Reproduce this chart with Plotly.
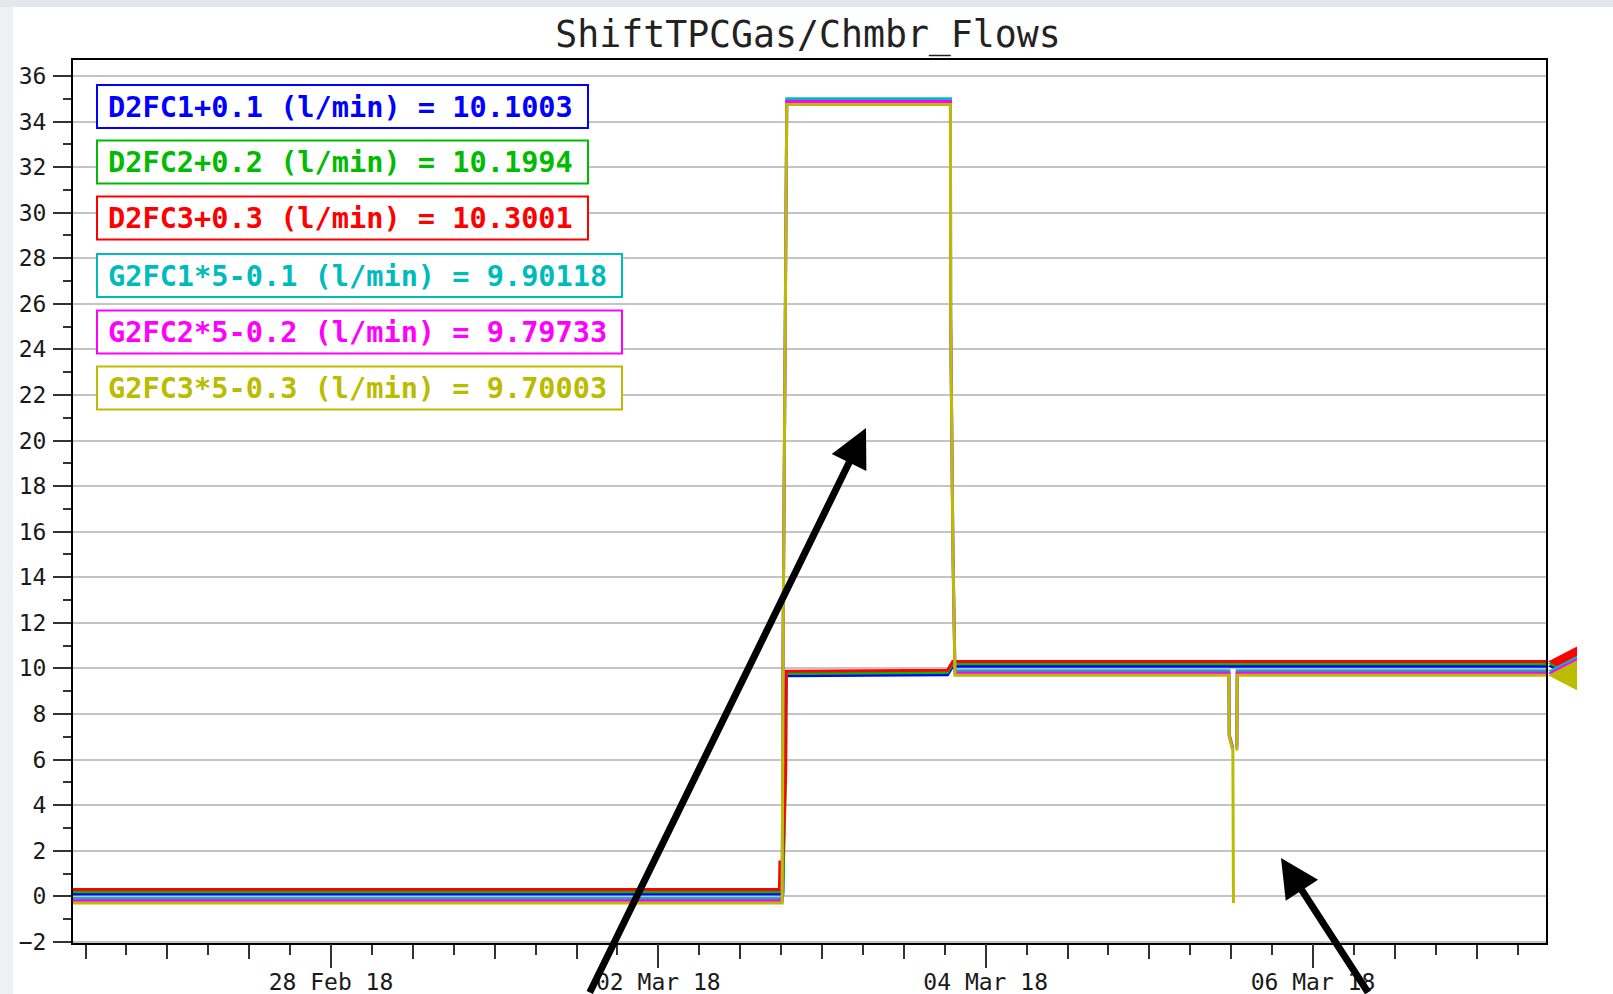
import plotly.graph_objects as go

# ---------------- data ----------------
TITLE = "ShiftTPCGas/Chmbr_Flows"
X_START = "2018-02-26 10:10"
X_END = "2018-03-07 10:10"

TIME_D = ["2018-02-26 10:10", "2018-03-02 17:45", "2018-03-02 17:50", "2018-03-02 18:15",
          "2018-03-02 18:40", "2018-03-02 18:45", "2018-03-03 18:25", "2018-03-03 19:10",
          "2018-03-07 10:10"]
D2FC1 = [0.10, 0.10, 0.10, 0.10, 8.40, 9.68, 9.72, 10.10, 10.10]
D2FC2 = [0.20, 0.20, 0.20, 0.20, 5.40, 9.78, 9.82, 10.20, 10.20]
D2FC3 = [0.30, 0.30, 1.50, 1.50, 5.50, 9.88, 9.92, 10.30, 10.30]

TIME_G = ["2018-02-26 10:10", "2018-03-02 18:10", "2018-03-02 18:17", "2018-03-02 18:43",
          "2018-03-02 18:50", "2018-03-03 18:50", "2018-03-03 18:52", "2018-03-03 19:12",
          "2018-03-03 19:30", "2018-03-05 11:40", "2018-03-05 11:43", "2018-03-05 12:15",
          "2018-03-05 12:18", "2018-03-05 12:20", "2018-03-05 12:35", "2018-03-05 12:50",
          "2018-03-05 12:53", "2018-03-07 10:10"]
G2FC1 = [-0.10, -0.10, 10.70, 29.90, 35.00, 35.00, 25.60, 15.20, 9.90, 9.90, 7.10, 6.50,
         None, None, None, 6.60, 9.90, 9.90]
G2FC2 = [-0.20, -0.20, 10.60, 29.80, 34.88, 34.88, 25.50, 15.10, 9.80, 9.80, 7.05, 6.45,
         None, None, None, 6.50, 9.80, 9.80]
G2FC3 = [-0.30, -0.30, 10.50, 29.70, 34.75, 34.75, 25.40, 15.00, 9.70, 9.70, 7.00, 6.40,
         2.00, -0.30, None, 6.40, 9.70, 9.70]

SERIES_NAMES = ["D2FC1+0.1", "D2FC2+0.2", "D2FC3+0.3", "G2FC1*5-0.1", "G2FC2*5-0.2", "G2FC3*5-0.3"]
SERIES_UNITS = "(l/min)"
SERIES_CURRENT = ["10.1003", "10.1994", "10.3001", "9.90118", "9.79733", "9.70003"]
SERIES_COLORS = ["#0000ff", "#00bb00", "#ff0000", "#00bbbb", "#ff00ff", "#bbbb00"]
SERIES_X = [TIME_D, TIME_D, TIME_D, TIME_G, TIME_G, TIME_G]
SERIES_Y = [D2FC1, D2FC2, D2FC3, G2FC1, G2FC2, G2FC3]

Y_RANGE = [-2.05, 36.7]

# ---------------- layout geometry (pixels) ----------------
W, H = 1613, 994
PX_L, PX_R, PX_T, PX_B = 73, 1546, 60, 943
MONO = "DejaVu Sans Mono, monospace"
PX_PER_UNIT = (PX_B - PX_T) / (Y_RANGE[1] - Y_RANGE[0])


def pxx(px):
    return (px - PX_L) / (PX_R - PX_L)


def pxy(py):
    return (PX_B - py) / (PX_B - PX_T)


fig = go.Figure()

for name, xs, ys, col in zip(SERIES_NAMES, SERIES_X, SERIES_Y, SERIES_COLORS):
    fig.add_trace(go.Scatter(x=xs, y=ys, mode="lines", name=name,
                             line=dict(color=col, width=3), connectgaps=False,
                             showlegend=False))

# dummy trace for the overlay axis carrying the long day ticks
fig.add_trace(go.Scatter(x=[X_START], y=[None], xaxis="x2", showlegend=False,
                         hoverinfo="skip", mode="lines"))

shapes = []
annotations = []

# current-value triangles just outside the right frame (y from last data value)
half = 15 / PX_PER_UNIT
for ys, col in zip(SERIES_Y, SERIES_COLORS):
    v = ys[-1]
    tip, base = pxx(1548), pxx(1577)
    shapes.append(dict(type="path", xref="paper", yref="y",
                       path=f"M {tip},{v} L {base},{v + half} L {base},{v - half} Z",
                       fillcolor=col, line=dict(width=0), layer="above"))

# legend boxes
box_tops = [85, 140.5, 196.5, 254, 310.5, 366.5]
box_rights = [588, 588, 588, 622, 622, 622]
for i, (name, val, col) in enumerate(zip(SERIES_NAMES, SERIES_CURRENT, SERIES_COLORS)):
    top = box_tops[i]
    bot = top + 43
    shapes.append(dict(type="rect", xref="paper", yref="paper",
                       x0=pxx(97), x1=pxx(box_rights[i]), y0=pxy(bot), y1=pxy(top),
                       line=dict(color=col, width=2), fillcolor="white", layer="above"))
    annotations.append(dict(xref="paper", yref="paper", x=pxx(106), y=pxy((top + bot) / 2),
                            xanchor="left", yanchor="middle", showarrow=False,
                            text=f"<b>{name} {SERIES_UNITS} = {val}</b>",
                            font=dict(family=MONO, size=28.6, color=col)))

# page strips (left/top)
shapes.append(dict(type="rect", xref="paper", yref="paper", x0=pxx(0), x1=pxx(13),
                   y0=pxy(H), y1=pxy(0), line=dict(width=0), fillcolor="#eef0f4", layer="above"))
shapes.append(dict(type="rect", xref="paper", yref="paper", x0=pxx(0), x1=pxx(W),
                   y0=pxy(7), y1=pxy(0), line=dict(width=0), fillcolor="#e4e7ec", layer="above"))

# arrows
annotations.append(dict(xref="paper", yref="paper", x=pxx(866), y=pxy(428), text="",
                        showarrow=True, arrowhead=2, arrowsize=1.1, arrowwidth=7,
                        arrowcolor="black", ax=-277, ay=604, axref="pixel", ayref="pixel"))
annotations.append(dict(xref="paper", yref="paper", x=pxx(1281), y=pxy(858), text="",
                        showarrow=True, arrowhead=2, arrowsize=1.1, arrowwidth=7,
                        arrowcolor="black", ax=88, ay=160, axref="pixel", ayref="pixel"))

fig.update_layout(
    width=W, height=H,
    margin=dict(l=PX_L, r=W - PX_R, t=PX_T, b=H - PX_B, autoexpand=False),
    paper_bgcolor="white", plot_bgcolor="white",
    title=dict(text=TITLE, x=pxx(808), xref="paper", y=1 - 34 / H, yref="container",
               xanchor="center", yanchor="middle",
               font=dict(family=MONO, size=36.5, color="#222")),
    showlegend=False,
    shapes=shapes, annotations=annotations,
    xaxis=dict(type="date", range=[X_START, X_END], tickmode="linear", automargin=False,
               tick0="2018-02-26 12:00", dtick=43200000, ticks="outside", ticklen=14,
               tickwidth=2, tickcolor="#333", showticklabels=False, showgrid=False,
               showline=True, linecolor="black", linewidth=2, mirror=True, zeroline=False,
               minor=dict(tick0="2018-02-26 06:00", dtick=21600000, ticks="outside",
                          ticklen=10, tickwidth=2, tickcolor="#333", showgrid=False)),
    xaxis2=dict(type="date", range=[X_START, X_END], overlaying="x", anchor="y", side="bottom",
                automargin=False,
                tickmode="linear", tick0="2018-02-28", dtick=172800000, ticks="outside",
                ticklen=24, tickwidth=2, tickcolor="#333", tickformat="%d %b %y",
                showgrid=False, showline=False, zeroline=False, ticklabelstandoff=-6,
                tickfont=dict(family=MONO, size=23, color="#1a1a1a")),
    yaxis=dict(range=Y_RANGE, tickmode="linear", tick0=0, dtick=2, ticks="outside",
               automargin=False,
               ticklen=18, tickwidth=2, tickcolor="#333", showgrid=True, gridcolor="#c4c4c4",
               gridwidth=2, showline=True, linecolor="black", linewidth=2, mirror=True,
               zeroline=False, ticklabelstandoff=2,
               tickfont=dict(family=MONO, size=23, color="#1a1a1a"),
               minor=dict(dtick=1, ticks="outside", ticklen=8, tickwidth=2,
                          tickcolor="#333", showgrid=False)),
)

fig.write_html("out.html", config={"displayModeBar": False},
               post_script="document.body.style.margin='0';document.body.style.padding='0';")
